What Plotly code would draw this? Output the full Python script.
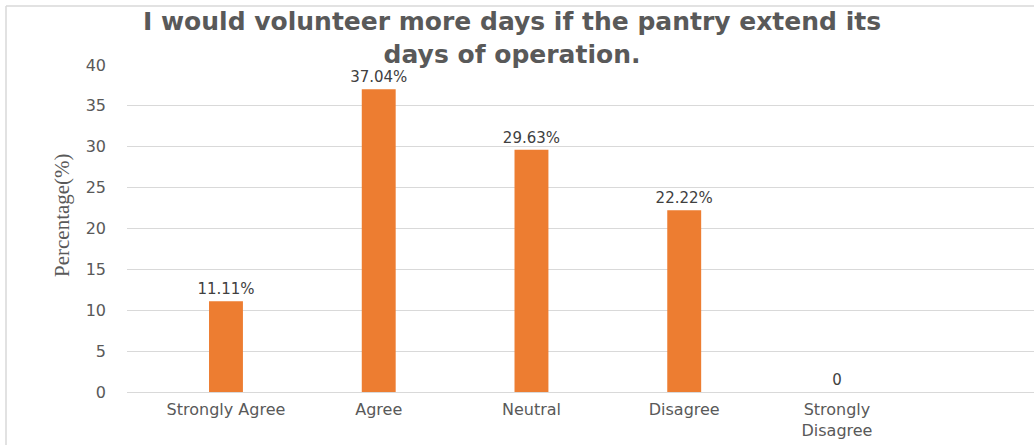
import plotly.graph_objects as go

categories = ["Strongly Agree", "Agree", "Neutral", "Disagree", "Strongly<br>Disagree"]
values = [11.11, 37.04, 29.63, 22.22, 0]
labels = ["11.11%", "37.04%", "29.63%", "22.22%", "0"]
y_ticks = [0, 5, 10, 15, 20, 25, 30, 35, 40]

W, H = 1034, 445
L, R, T, B = 127, 0, 65, 53
pw, ph = W - L - R, H - T - B


def px_x(p):
    return (p - L) / pw


def px_y(p):
    return (H - B - p) / ph


fig = go.Figure(go.Bar(
    x=categories, y=values, text=labels, textposition="outside",
    marker=dict(color="#ED7D31", line=dict(width=0)),
    width=0.222, cliponaxis=False, constraintext="none",
    textfont=dict(family="DejaVu Sans", size=15, color="#404040"),
))

border = dict(color="#d9d9d9", width=1.5)

fig.update_layout(
    width=W, height=H,
    margin=dict(l=L, r=R, t=T, b=B),
    paper_bgcolor="white", plot_bgcolor="white",
    showlegend=False,
    xaxis=dict(
        type="category", range=[-0.648, 5.29],
        showgrid=False, showline=False, zeroline=False, ticks="",
        ticklabelstandoff=6,
        tickfont=dict(family="DejaVu Sans", size=16, color="#595959"),
    ),
    yaxis=dict(
        range=[0, 40], tickvals=y_ticks,
        showgrid=True, gridcolor="#d9d9d9", gridwidth=1,
        zeroline=True, zerolinecolor="#d9d9d9", zerolinewidth=1,
        showline=False, ticks="", ticklabelstandoff=20,
        tickfont=dict(family="DejaVu Sans", size=16, color="#595959"),
    ),
    annotations=[
        dict(
            text="I would volunteer more days if the pantry extend its<br>days of operation.",
            x=px_x(512), y=px_y(38), xref="paper", yref="paper",
            showarrow=False, xanchor="center", yanchor="middle",
            font=dict(family="DejaVu Sans", size=25, color="#595959", weight="bold"),
        ),
        dict(
            text="Percentage(%)", textangle=-90,
            x=px_x(62), y=px_y(215), xref="paper", yref="paper",
            showarrow=False, xanchor="center", yanchor="middle",
            font=dict(family="Liberation Serif", size=21, color="#595959"),
        ),
    ],
    shapes=[
        dict(type="line", xref="paper", yref="paper",
             x0=px_x(6), x1=px_x(6), y0=px_y(H + 5), y1=px_y(6), line=border),
        dict(type="line", xref="paper", yref="paper",
             x0=px_x(6), x1=px_x(W + 10), y0=px_y(6), y1=px_y(6), line=border),
    ],
)

fig.write_html(
    "out.html",
    config={"displayModeBar": False},
    post_script="document.body.style.margin='0';document.body.style.overflow='hidden';",
)
